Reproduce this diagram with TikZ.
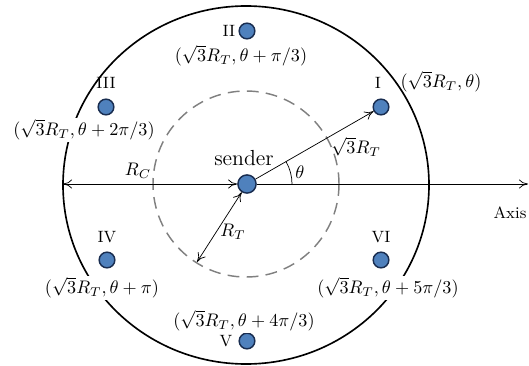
\documentclass[tikz,border=0pt]{standalone}
\usepackage{amsmath}
\usepackage{amssymb}
\usetikzlibrary{arrows.meta}
\definecolor{nodeblue}{RGB}{79,129,189}
\definecolor{nodeedge}{RGB}{25,45,80}

\begin{document}
\begin{tikzpicture}[x=0.55pt, y=-0.55pt, >={To[length=5pt,width=5pt]},
  station/.style={circle, draw=nodeedge, fill=nodeblue, line width=0.8pt, minimum size=8.6pt, inner sep=0pt},
  poslabel/.style={fill=white, inner sep=1pt},
  numlabel/.style={font=\small, inner sep=0pt}]
\useasboundingbox (0,0) rectangle (529,365);

% Coverage circle and dashed inner circle
\draw[line width=0.9pt] (246,185) ellipse [x radius=183, y radius=179];
\draw[black!50, line width=0.8pt, dash pattern=on 6.5pt off 4pt] (246,184) circle [radius=93];

% Sender
\node[station, minimum size=10pt] (sender) at (247,184) {};
\node[font=\large] (sendertext) at (244,158) {sender};

% Neighbour positions
\node[station] (st1) at (381,107) {};
\node[station] (st2) at (247,31) {};
\node[station] (st3) at (106,107) {};
\node[station] (st4) at (107,260) {};
\node[station] (st5) at (247,341) {};
\node[station] (st6) at (381,260) {};

\node[numlabel] (n1) at (378,83) {I};
\node[numlabel] (n2) at (229,31) {II};
\node[numlabel] (n3) at (106,83) {III};
\node[numlabel] (n4) at (107,237) {IV};
\node[numlabel] (n5) at (226,341) {V};
\node[numlabel] (n6) at (381,237) {VI};

\node[inner sep=1pt] (p1) at (441,82) {$(\sqrt{3}R_T,\theta)$};
\node[poslabel] (p2) at (241,56) {$(\sqrt{3}R_T,\theta+\pi/3)$};
\node[poslabel] (p3) at (84,130) {$(\sqrt{3}R_T,\theta+2\pi/3)$};
\node[poslabel] (p4) at (102,288) {$(\sqrt{3}R_T,\theta+\pi)$};
\node[poslabel] (p5) at (244,321) {$(\sqrt{3}R_T,\theta+4\pi/3)$};
\node[poslabel] (p6) at (388,288) {$(\sqrt{3}R_T,\theta+5\pi/3)$};

% Radii and axis
\coordinate (rcend) at (63,184);
\coordinate (rtend) at (197,262);
\coordinate (axisend) at (528,184);
\draw[<->] (rcend) -- (sender);
\node (rc) at (138,171) {$R_C$};
\draw[<->] (sender) -- (rtend);
\node (rt) at (233,232) {$R_T$};
\draw[->] (sender) -- (st1);
\node (r3) at (356,147) {$\sqrt{3}R_T$};
\draw[->] (sender) -- (axisend);
\node[font=\small] (axis) at (510,213) {Axis};

% Angle
\draw ([xshift=45*0.55pt]sender.center) arc [start angle=0, end angle=-30, radius=45];
\node (theta) at (300,172) {$\theta$};

\end{tikzpicture}
\end{document}
